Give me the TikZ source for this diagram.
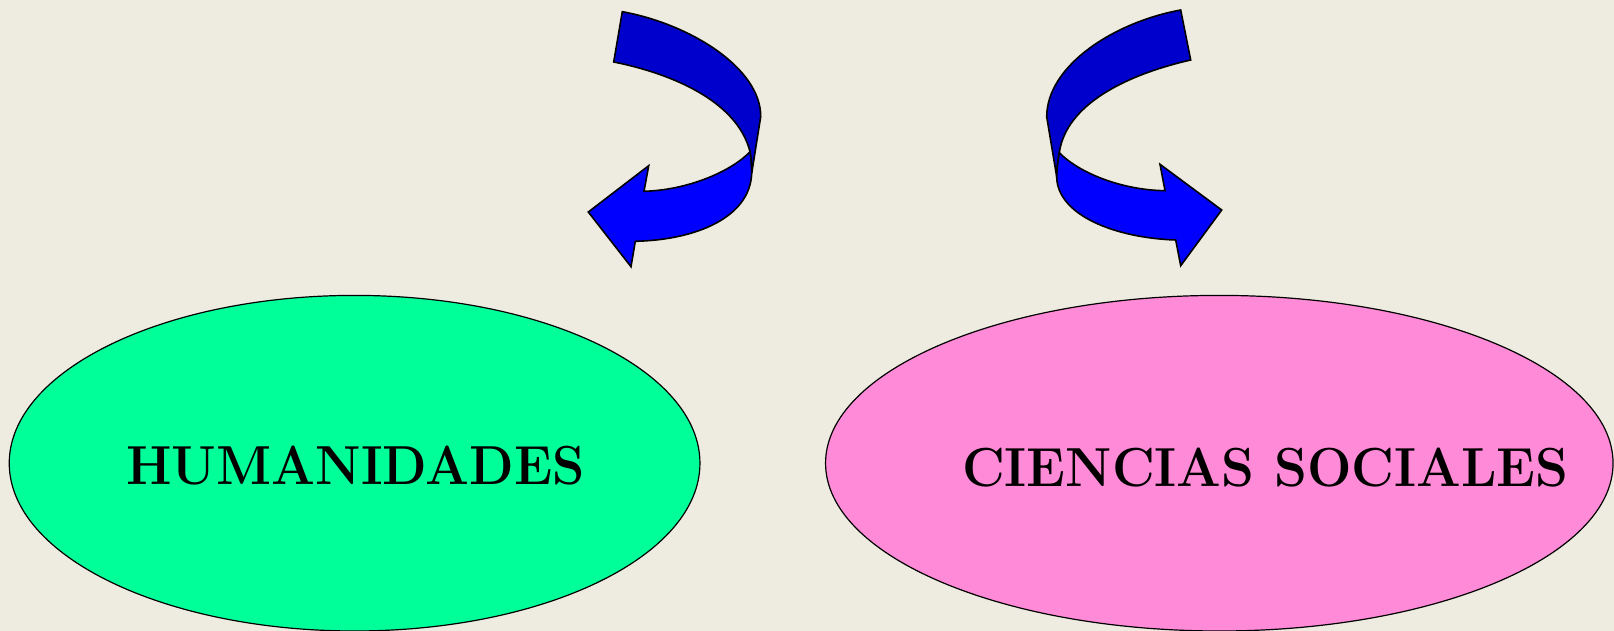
\documentclass[tikz,border=0pt]{standalone}
\usetikzlibrary{shapes.geometric}
\definecolor{bgcol}{HTML}{EEECE1}
\definecolor{greenfill}{HTML}{00FF99}
\definecolor{pinkfill}{HTML}{FF8AD8}
\definecolor{darkblue}{HTML}{0000CC}
\definecolor{lightblue}{HTML}{0000FF}
\tikzset{
  bubble/.style={ellipse, draw=black, line width=1.2pt, inner sep=0pt},
  bubbletext/.style={font=\fontsize{55}{60}\selectfont\bfseries, anchor=base, inner sep=0pt},
  ribbondark/.style={fill=darkblue, draw=black, line width=1.6pt},
  ribbonlight/.style={fill=lightblue, draw=black, line width=1.6pt}
}
\begin{document}
\begin{tikzpicture}[x=1pt,y=-1pt]
\fill[bgcol] (0,0) rectangle (1614,631);
\useasboundingbox (0,0) rectangle (1614,631);

% ellipses
\node[bubble, fill=greenfill, minimum width=690.7pt, minimum height=335.6pt] (hum) at (354.6,463.2) {};
\node[bubble, fill=pinkfill, minimum width=787.5pt, minimum height=335.6pt] (soc) at (1219.3,463.2) {};

\node[bubbletext] (humtxt) at (355.5,484) {\scalebox{0.94}[1]{HUMANIDADES}};
\node[bubbletext] (soctxt) at (1265.3,486) {\scalebox{0.957}[1]{CIENCIAS SOCIALES}};

% left curved arrow
\filldraw[ribbondark] (622.3,11.7) .. controls (690,24) and (761,68) .. (760.7,116.7)
  -- (751.7,173.3) .. controls (751.5,165) and (751,158) .. (750,151.7)
  .. controls (737,100) and (669,73) .. (613.7,62) -- cycle;
\filldraw[ribbonlight] (750,151.7) .. controls (733,170) and (690,190) .. (644,191.3)
  -- (648.7,165.7) -- (588.3,212) -- (631,266.7) -- (635.3,241.3)
  .. controls (695,240) and (750,218) .. (751.7,173.3)
  .. controls (751.5,165) and (751,158) .. (750,151.7) -- cycle;

% right curved arrow
\filldraw[ribbondark] (1180.7,10) .. controls (1115,22) and (1047,65) .. (1046.7,116.7)
  -- (1056.7,176.7) .. controls (1057,168) and (1058,160) .. (1059.3,152.7)
  .. controls (1066,105) and (1125,75) .. (1190.7,60) -- cycle;
\filldraw[ribbonlight] (1059.3,152.7) .. controls (1078,172) and (1120,190) .. (1165,190.7)
  -- (1160,164.3) -- (1221.7,210) -- (1180.7,265.7) -- (1175.7,240)
  .. controls (1115,238) and (1057,215) .. (1056.7,176.7)
  .. controls (1057,168) and (1058,160) .. (1059.3,152.7) -- cycle;
\end{tikzpicture}
\end{document}
